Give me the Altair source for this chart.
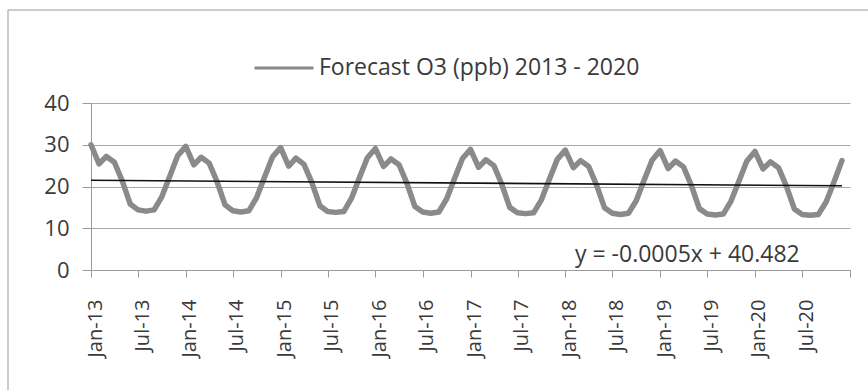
import altair as alt
import pandas as pd

# Monthly forecast O3 concentrations (ppb), one list per year, Jan..Dec
YEARS = [2013, 2014, 2015, 2016, 2017, 2018, 2019, 2020]
O3_2013 = [30.0, 25.4, 27.2, 25.8, 21.4, 15.8, 14.4, 14.1, 14.4, 17.6, 22.6, 27.4]
O3_2014 = [29.6, 25.2, 27.0, 25.6, 21.2, 15.6, 14.2, 13.9, 14.2, 17.4, 22.4, 27.1]
O3_2015 = [29.3, 24.9, 26.8, 25.3, 21.0, 15.4, 14.0, 13.8, 14.0, 17.2, 22.2, 26.9]
O3_2016 = [29.1, 24.8, 26.6, 25.2, 20.8, 15.2, 13.9, 13.6, 13.9, 17.0, 22.0, 26.7]
O3_2017 = [28.9, 24.6, 26.4, 25.0, 20.6, 15.0, 13.7, 13.5, 13.7, 16.8, 21.8, 26.5]
O3_2018 = [28.7, 24.5, 26.2, 24.8, 20.4, 14.9, 13.6, 13.3, 13.6, 16.6, 21.6, 26.3]
O3_2019 = [28.6, 24.3, 26.1, 24.7, 20.3, 14.7, 13.4, 13.2, 13.4, 16.5, 21.4, 26.1]
O3_2020 = [28.4, 24.2, 25.9, 24.5, 20.1, 14.6, 13.3, 13.1, 13.3, 16.3, 21.2, 26.2]
O3_BY_YEAR = [O3_2013, O3_2014, O3_2015, O3_2016, O3_2017, O3_2018, O3_2019, O3_2020]

SERIES = "Forecast O3 (ppb) 2013 - 2020"
EQUATION = "y = -0.0005x + 40.482"

# Linear trend (x = spreadsheet date serial, days since 1899-12-30)
TREND_SLOPE = -0.00046
TREND_INTERCEPT = 40.482
EPOCH = pd.Timestamp("1899-12-30")

# Axis ticks every six months, Jan-13 .. Jan-21
TICK_DATES = [(y, m) for y in range(2013, 2021) for m in (1, 7)] + [(2021, 1)]

dates = [f"{y}-{m:02d}-01" for y in YEARS for m in range(1, 13)]
values = [v for year in O3_BY_YEAR for v in year]
df = pd.DataFrame({"date": dates, "o3": values, "series": SERIES})

trend_dates = [dates[0], dates[-1]]
trend_df = pd.DataFrame({
    "date": trend_dates,
    "o3": [TREND_INTERCEPT + TREND_SLOPE * (pd.Timestamp(d) - EPOCH).days for d in trend_dates],
})

FONT = "Open Sans"
TEXT = "#3a3a3a"
LINE_GREY = "#8a8a8a"
AXIS_GREY = "#9a9a9a"

x_enc = alt.X(
    "date:T",
    scale=alt.Scale(
        type="utc",
        domain=[alt.DateTime(year=2013, month=1, date=1, utc=True),
                alt.DateTime(year=2021, month=1, date=1, utc=True)],
    ),
    axis=alt.Axis(
        title=None,
        values=[alt.DateTime(year=y, month=m, date=1, utc=True) for y, m in TICK_DATES],
        labelExpr="datum.value >= utc(2021, 0, 1) ? '' : utcFormat(datum.value, '%b-%y')",
        labelAngle=270,
        labelFontSize=20,
        labelFont=FONT,
        labelColor=TEXT,
        labelPadding=22,
        labelOffset=4,
        tickSize=7,
        grid=False,
        labelOverlap=False,
        labelFlush=False,
    ),
)

y_enc = alt.Y(
    "o3:Q",
    scale=alt.Scale(domain=[0, 40], nice=False),
    axis=alt.Axis(
        title=None,
        values=[0, 10, 20, 30, 40],
        labelFontSize=22,
        labelFont=FONT,
        labelColor=TEXT,
        labelPadding=13,
        tickSize=9,
        grid=True,
    ),
)

line = alt.Chart(df).mark_line(strokeWidth=5.5, strokeJoin="round", strokeCap="round").encode(
    x=x_enc,
    y=y_enc,
    color=alt.Color(
        "series:N",
        scale=alt.Scale(domain=[SERIES], range=[LINE_GREY]),
        legend=alt.Legend(
            title=None,
            orient="none",
            legendX=162,
            legendY=-66,
            symbolType="stroke",
            symbolSize=3481,
            symbolStrokeWidth=3,
            labelFontSize=23,
            labelFont=FONT,
            labelColor=TEXT,
            labelOffset=4,
            labelLimit=600,
            padding=0,
        ),
    ),
)

trend = alt.Chart(trend_df).mark_line(color="#111111", strokeWidth=1.6).encode(
    x="date:T",
    y="o3:Q",
)

one_row = alt.Data(values=[{"k": 1}])

equation = alt.Chart(one_row).mark_text(
    text=EQUATION, align="left", baseline="middle",
    fontSize=23, font=FONT, color=TEXT,
).encode(x=alt.value(484), y=alt.value(152))

# Outer chart frame (left and top edges)
frame_left = alt.Chart(one_row).mark_rule(color=AXIS_GREY, strokeWidth=1).encode(
    x=alt.value(-83), y=alt.value(-93), y2=alt.value(290)
)
frame_top = alt.Chart(one_row).mark_rule(color=AXIS_GREY, strokeWidth=1).encode(
    x=alt.value(-83), x2=alt.value(780), y=alt.value(-93)
)

chart = alt.layer(frame_left, frame_top, line, trend, equation).properties(
    width=759,
    height=167,
    padding={"left": 91, "top": 103, "right": 18, "bottom": 120},
    autosize="none",
    background="white",
).configure_view(
    stroke=None,
).configure_axis(
    domainColor=AXIS_GREY,
    tickColor=AXIS_GREY,
    gridColor="#a8a8a8",
    gridWidth=1,
)

chart.save("out.html", embed_options={"renderer": "svg", "actions": False})
